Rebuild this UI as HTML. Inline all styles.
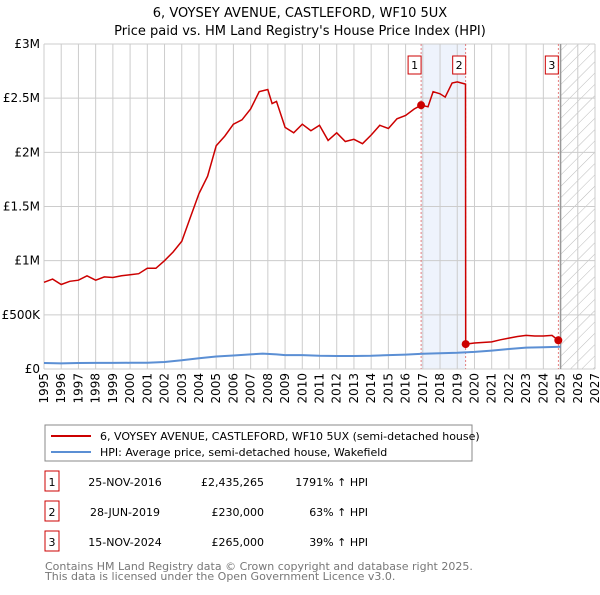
<!DOCTYPE html>
<html><head><meta charset="utf-8"><style>
body{margin:0;background:#fff;font-family:"Liberation Sans","DejaVu Sans",sans-serif;}
svg text{font-family:"DejaVu Sans","Liberation Sans",sans-serif;}
</style></head><body>
<svg id="c" width="600" height="590" xmlns="http://www.w3.org/2000/svg">
<defs><pattern id="hatch" width="8" height="8" patternUnits="userSpaceOnUse" patternTransform="rotate(45)"><line x1="0" y1="0" x2="0" y2="8" stroke="#bbb" stroke-width="1"/></pattern></defs>
<text x="300" y="17" text-anchor="middle" font-size="13">6, VOYSEY AVENUE, CASTLEFORD, WF10 5UX</text>
<text x="300" y="35" text-anchor="middle" font-size="13">Price paid vs. HM Land Registry's House Price Index (HPI)</text>
<g id="grid"></g><g id="marks"></g>
<rect x="45" y="425" width="427" height="36" fill="#fff" stroke="#888"/>
<line x1="51" y1="436" x2="91" y2="436" stroke="#cc0000" stroke-width="2"/>
<text x="100" y="440" font-size="11">6, VOYSEY AVENUE, CASTLEFORD, WF10 5UX (semi-detached house)</text>
<line x1="51" y1="452" x2="91" y2="452" stroke="#5b8fd4" stroke-width="2"/>
<text x="100" y="456" font-size="11">HPI: Average price, semi-detached house, Wakefield</text>
<g id="table" font-size="11"></g>
<text x="45" y="570" font-size="11" fill="#777">Contains HM Land Registry data © Crown copyright and database right 2025.</text>
<text x="45" y="580" font-size="11" fill="#777">This data is licensed under the Open Government Licence v3.0.</text>
</svg>
<script>
const yTicks=[0,500000,1000000,1500000,2000000,2500000,3000000];
const yTickLabels=["£0","£500K","£1M","£1.5M","£2M","£2.5M","£3M"];
const years=[1995,1996,1997,1998,1999,2000,2001,2002,2003,2004,2005,2006,2007,2008,2009,2010,2011,2012,2013,2014,2015,2016,2017,2018,2019,2020,2021,2022,2023,2024,2025,2026,2027];
const redT=[1995,1995.5,1996,1996.5,1997,1997.5,1998,1998.5,1999,1999.5,2000,2000.5,2001,2001.5,2002,2002.5,2003,2003.5,2004,2004.5,2005,2005.5,2006,2006.5,2007,2007.5,2008,2008.25,2008.5,2009,2009.5,2010,2010.5,2011,2011.5,2012,2012.5,2013,2013.5,2014,2014.5,2015,2015.5,2016,2016.5,2016.9,2017.3,2017.6,2018,2018.3,2018.7,2019,2019.48,2019.49,2020,2021,2021.5,2022,2022.5,2023,2023.5,2024,2024.5,2024.87];
const redV=[800,830,780,810,820,860,820,850,845,860,870,880,930,930,1000,1080,1180,1400,1620,1780,2060,2150,2260,2300,2400,2560,2580,2450,2470,2230,2180,2260,2200,2250,2110,2180,2100,2120,2080,2160,2250,2220,2310,2340,2400,2435,2420,2560,2540,2510,2640,2650,2630,230,240,250,270,285,300,310,305,305,310,265];
const hpiT=[1995,1996,1997,1998,1999,2000,2001,2002,2003,2004,2005,2006,2007,2007.7,2008.5,2009,2010,2011,2012,2013,2014,2015,2016,2017,2018,2019,2020,2021,2022,2023,2024,2025];
const hpiV=[55,52,55,56,56,57,58,65,80,100,115,125,135,142,135,128,128,122,120,120,122,128,133,140,145,150,158,170,185,198,200,205];
const saleT=[2016.9,2019.49,2024.87];
const saleV=[2435265,230000,265000];
const saleLabels=["1","2","3"];
const saleDates=["25-NOV-2016","28-JUN-2019","15-NOV-2024"];
const salePrices=["£2,435,265","£230,000","£265,000"];
const saleHpi=["1791% ↑ HPI","63% ↑ HPI","39% ↑ HPI"];

const X0=44,X1=595,Y0=369,Y1=44;
const xS=t=>X0+(t-1995)/(2027-1995)*(X1-X0);
const yS=v=>Y0-v/3000000*(Y0-Y1);
const NS="http://www.w3.org/2000/svg";
function mk(tag,attrs,parent){const e=document.createElementNS(NS,tag);for(const k in attrs)e.setAttribute(k,attrs[k]);parent.appendChild(e);return e;}
const G=document.getElementById('grid'),M=document.getElementById('marks'),T=document.getElementById('table');
// shaded band and hatch
let band=mk('rect',{x:xS(saleT[0]),y:Y1,width:xS(saleT[1])-xS(saleT[0]),height:Y0-Y1,fill:'#eef3fc'},G);


let hat=mk('rect',{x:xS(2025),y:Y1,width:X1-xS(2025),height:Y0-Y1,fill:'url(#hatch)'},G);


years.forEach(y=>{const x=xS(y);
 let l=mk('line',{x1:x,y1:Y1,x2:x,y2:Y0,stroke:'#ccc'},G);
 
 
 let t=mk('text',{x:0,y:0,'font-size':12,'text-anchor':'end',transform:`translate(${x+4},${Y0+4}) rotate(-90)`},G);
 t.textContent=y;
 
 });
yTicks.forEach((v,i)=>{const y=yS(v);
 let l=mk('line',{x1:X0,y1:y,x2:X1,y2:y,stroke:'#ccc'},G);
 
 
 let t=mk('text',{x:X0-4,y:y+4,'font-size':12,'text-anchor':'end'},G);
 t.textContent=yTickLabels[i];
 
 });
let nl=mk('line',{x1:xS(2025),y1:Y1,x2:xS(2025),y2:Y0,stroke:'#999','stroke-width':1.5},G);


saleT.forEach((t,i)=>{const x=xS(t);
 let l=mk('line',{x1:x,y1:Y1,x2:x,y2:Y0,stroke:'#e06060','stroke-dasharray':'2,2','stroke-width':0.8},G);
 
 
 let r=mk('rect',{x:x-13,y:56,width:13,height:18,fill:'#fff',stroke:'#cc0000'},G);
 
 
 let tx=mk('text',{x:x-6.5,y:69,'font-size':11,'text-anchor':'middle'},G);
 tx.textContent=saleLabels[i];
 
 });
let hp=mk('path',{d:hpiT.map((t,i)=>(i?'L':'M')+xS(t).toFixed(1)+','+yS(hpiV[i]*1000).toFixed(1)).join(''),fill:'none',stroke:'#5b8fd4','stroke-width':2},M);


let rp=mk('path',{d:redT.map((t,i)=>(i?'L':'M')+xS(t).toFixed(1)+','+yS(redV[i]*1000).toFixed(1)).join(''),fill:'none',stroke:'#cc0000','stroke-width':1.5},M);


saleT.forEach((t,i)=>{let c=mk('circle',{cx:xS(t),cy:yS(saleV[i]),r:4,fill:'#cc0000'},M);
 
 });
saleT.forEach((t,i)=>{const y=483+i*30;
 let r=mk('rect',{x:45,y:y-12,width:14,height:20,fill:'#fff',stroke:'#cc0000'},T);
 
 
 const cells=[[52,saleLabels[i],'middle'],[125,saleDates[i],'middle'],[264,salePrices[i],'end'],[368,saleHpi[i],'end']];
 cells.forEach(c=>{let tx=mk('text',{x:c[0],y:y+3,'text-anchor':c[2]},T);
  tx.textContent=c[1];
  
  });});
</script>
</body></html>
